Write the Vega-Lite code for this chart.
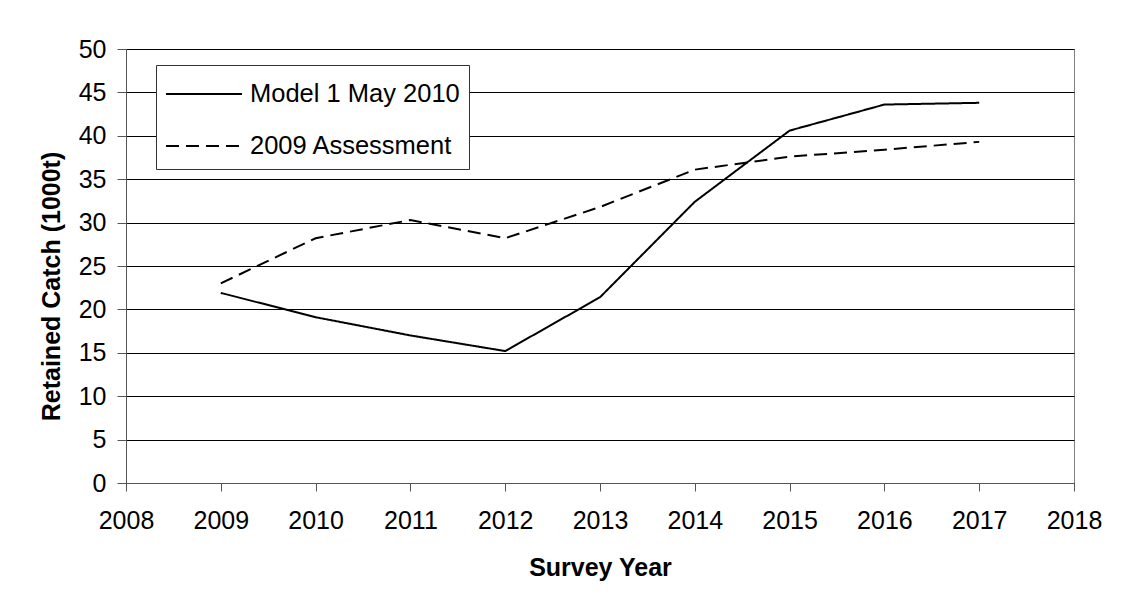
{
  "$schema": "https://vega.github.io/schema/vega-lite/v6.json",
  "width": 948,
  "height": 434,
  "autosize": {"type": "none"},
  "padding": {"left": 126, "top": 49, "right": 49, "bottom": 125},
  "background": "white",
  "data": {
    "values": [
      {"year": 2009, "value": 21.9, "series": "Model 1 May 2010"},
      {"year": 2010, "value": 19.1, "series": "Model 1 May 2010"},
      {"year": 2011, "value": 17.0, "series": "Model 1 May 2010"},
      {"year": 2012, "value": 15.2, "series": "Model 1 May 2010"},
      {"year": 2013, "value": 21.4, "series": "Model 1 May 2010"},
      {"year": 2014, "value": 32.4, "series": "Model 1 May 2010"},
      {"year": 2015, "value": 40.6, "series": "Model 1 May 2010"},
      {"year": 2016, "value": 43.6, "series": "Model 1 May 2010"},
      {"year": 2017, "value": 43.8, "series": "Model 1 May 2010"},
      {"year": 2009, "value": 23.0, "series": "2009 Assessment"},
      {"year": 2010, "value": 28.2, "series": "2009 Assessment"},
      {"year": 2011, "value": 30.3, "series": "2009 Assessment"},
      {"year": 2012, "value": 28.2, "series": "2009 Assessment"},
      {"year": 2013, "value": 31.8, "series": "2009 Assessment"},
      {"year": 2014, "value": 36.1, "series": "2009 Assessment"},
      {"year": 2015, "value": 37.6, "series": "2009 Assessment"},
      {"year": 2016, "value": 38.4, "series": "2009 Assessment"},
      {"year": 2017, "value": 39.3, "series": "2009 Assessment"}
    ]
  },
  "mark": {"type": "line", "strokeWidth": 2},
  "encoding": {
    "x": {
      "field": "year",
      "type": "quantitative",
      "scale": {"domain": [2008, 2018], "nice": false, "zero": false},
      "axis": {
        "title": "Survey Year",
        "values": [2008, 2009, 2010, 2011, 2012, 2013, 2014, 2015, 2016, 2017, 2018],
        "format": "d",
        "grid": false,
        "tickSize": 8,
        "labelPadding": 37,
        "labelBaseline": "alphabetic",
        "labelFlush": false,
        "labelBound": false,
        "labelOverlap": false,
        "titleBaseline": "alphabetic",
        "titleY": 92
      }
    },
    "y": {
      "field": "value",
      "type": "quantitative",
      "scale": {"domain": [0, 50], "nice": false},
      "axis": {
        "title": "Retained Catch (1000t)",
        "values": [0, 5, 10, 15, 20, 25, 30, 35, 40, 45, 50],
        "grid": true,
        "gridColor": "black",
        "gridWidth": 1,
        "gridOpacity": 1,
        "tickSize": 9,
        "labelPadding": 11,
        "labelFlush": false,
        "labelOverlap": false,
        "titleBaseline": "alphabetic",
        "titleX": -67,
        "titleY": 237
      }
    },
    "color": {
      "field": "series",
      "type": "nominal",
      "scale": {"domain": ["Model 1 May 2010", "2009 Assessment"], "range": ["black", "black"]},
      "legend": {"title": null}
    },
    "strokeDash": {
      "field": "series",
      "type": "nominal",
      "scale": {"domain": ["Model 1 May 2010", "2009 Assessment"], "range": [[1, 0], [13, 7]]},
      "legend": {"title": null}
    }
  },
  "config": {
    "font": "Liberation Sans",
    "view": {"stroke": "#808080", "strokeWidth": 1},
    "axis": {
      "labelFont": "Liberation Sans",
      "labelFontSize": 25,
      "labelColor": "black",
      "titleFont": "Liberation Sans",
      "titleFontSize": 25,
      "titleFontWeight": "bold",
      "titleColor": "black",
      "domainColor": "#555555",
      "tickColor": "#555555",
      "domainWidth": 1,
      "tickWidth": 1
    },
    "legend": {
      "orient": "none",
      "legendX": 30,
      "legendY": 16,
      "padding": 9,
      "strokeColor": "#333333",
      "fillColor": "white",
      "symbolType": "M-1,0H3",
      "symbolSize": 1444,
      "symbolStrokeWidth": 2,
      "symbolStrokeColor": "black",
      "symbolFillColor": "transparent",
      "labelFont": "Liberation Sans",
      "labelFontSize": 25.5,
      "labelColor": "black",
      "labelOffset": 45,
      "rowPadding": 18,
      "labelLimit": 400
    }
  }
}
